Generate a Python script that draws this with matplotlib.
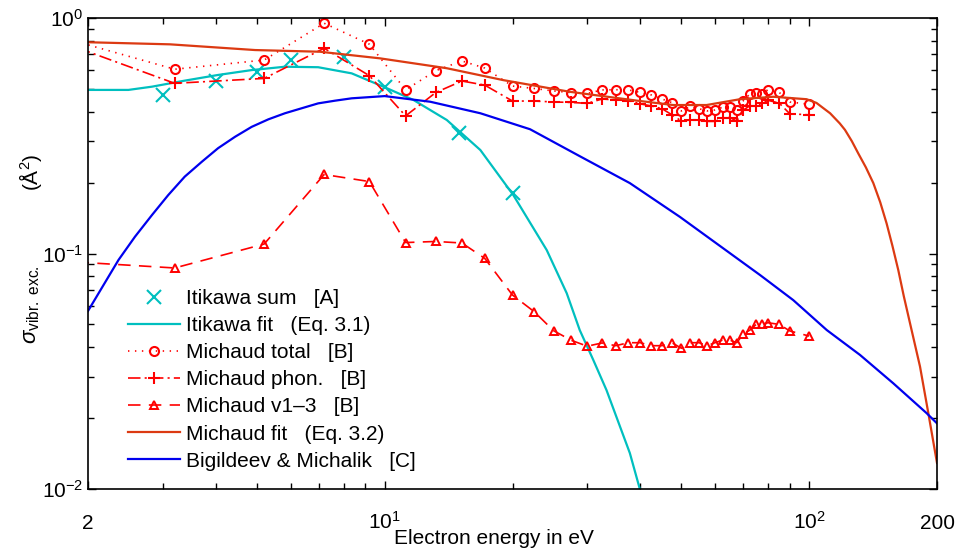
import matplotlib
matplotlib.use("Agg")
import matplotlib.pyplot as plt
from matplotlib.ticker import NullFormatter

plt.rcParams['font.family'] = ['Liberation Sans', 'DejaVu Sans']
plt.rcParams['mathtext.fontset'] = 'custom'
plt.rcParams['mathtext.rm'] = 'Liberation Sans'
plt.rcParams['mathtext.it'] = 'Liberation Sans:italic'
plt.rcParams['lines.scale_dashes'] = False

# Itikawa sum [A]
x_itikawa = [3, 4, 5, 6, 8, 10, 15, 20]
y_itikawa = [0.47, 0.54, 0.59, 0.66, 0.68, 0.51, 0.325, 0.181]

# Itikawa fit (Eq. 3.1)
x_ifit = [2.0, 2.49, 2.83, 3.38, 4.05, 4.86, 5.82, 6.97, 8.36, 10.0, 11.68, 14.0,
          16.8, 20.09, 24.08, 26.84, 28.8, 31.0, 33.3, 37.8, 39.9, 42]
y_ifit = [0.495, 0.495, 0.511, 0.542, 0.573, 0.601, 0.621, 0.618, 0.582, 0.508, 0.449, 0.369,
          0.275, 0.177, 0.1034, 0.0678, 0.0473, 0.0353, 0.0263, 0.0142, 0.010, 0.0075]

# Michaud data [B]
x_michaud = [1.5, 3.2, 5.2, 7.2, 9.2, 11.2, 13.2, 15.2, 17.2, 20, 22.5, 25, 27.5, 30,
             32.5, 35, 37.5, 40, 42.5, 45, 47.5, 50, 52.5, 55, 57.5, 60, 62.5, 65,
             67.5, 70, 72.5, 75, 77.5, 80, 85, 90, 100]
y_total = [0.89, 0.606, 0.663, 0.950, 0.774, 0.495, 0.598, 0.657, 0.613, 0.514, 0.502,
           0.490, 0.482, 0.478, 0.495, 0.496, 0.495, 0.483, 0.471, 0.453, 0.437, 0.403,
           0.421, 0.412, 0.403, 0.407, 0.418, 0.418, 0.407, 0.446, 0.476, 0.478, 0.476,
           0.497, 0.483, 0.440, 0.430]
y_phon = [0.87, 0.528, 0.554, 0.744, 0.569, 0.384, 0.483, 0.540, 0.519, 0.444, 0.444,
          0.440, 0.438, 0.434, 0.453, 0.449, 0.446, 0.432, 0.423, 0.412, 0.388, 0.365,
          0.369, 0.368, 0.364, 0.364, 0.375, 0.378, 0.365, 0.407, 0.424, 0.423, 0.436,
          0.447, 0.435, 0.392, 0.388]
y_v13 = [0.0943, 0.0868, 0.1097, 0.2165, 0.2021, 0.1113, 0.1125, 0.1108, 0.0954, 0.0666,
         0.0566, 0.0470, 0.0428, 0.0404, 0.0417, 0.0406, 0.0418, 0.0418, 0.0406, 0.0406,
         0.0418, 0.0396, 0.0418, 0.0418, 0.0406, 0.0418, 0.0429, 0.0429, 0.0418, 0.0456,
         0.0473, 0.0500, 0.0502, 0.0508, 0.0500, 0.0469, 0.0446]

# Michaud fit (Eq. 3.2)
x_mfit = [2.0, 3.12, 4.95, 7.04, 9.75, 14.0, 19.0, 27.3, 39.2, 47.8, 57.3, 68.7, 82.3,
          98.6, 104, 108, 112, 118, 121.4, 126, 130.5, 136, 141.6, 147, 152.2, 157,
          162.1, 167, 172.8, 182.4, 190.8, 200]
y_mfit = [0.789, 0.773, 0.731, 0.719, 0.674, 0.612, 0.545, 0.486, 0.446, 0.427, 0.427,
          0.452, 0.463, 0.452, 0.436, 0.414, 0.394, 0.357, 0.335, 0.300, 0.266, 0.232,
          0.199, 0.165, 0.134, 0.108, 0.0851, 0.066, 0.0505, 0.0331, 0.0210, 0.0129]

# Bigildeev & Michalik [C]
x_bm = [2.0, 2.36, 2.58, 2.83, 3.09, 3.38, 3.71, 4.05, 4.44, 4.86, 5.32, 5.82, 6.37,
        6.97, 7.64, 8.36, 10.0, 12.8, 16.8, 22.0, 28.8, 37.8, 49.6, 76.6, 91.7, 110,
        131.7, 157.8, 189, 200]
y_bm = [0.057, 0.0939, 0.1178, 0.1457, 0.177, 0.212, 0.2454, 0.280, 0.313, 0.345,
        0.3713, 0.394, 0.4136, 0.434, 0.4456, 0.456, 0.466, 0.441, 0.394, 0.337, 0.259,
        0.199, 0.143, 0.081, 0.0634, 0.0473, 0.0371, 0.0281, 0.0210, 0.0190]

cyan = '#00bfbf'
red = '#ff0000'
orange = '#dc3a12'
blue = '#0000ee'

fig = plt.figure(figsize=(9.55, 5.54), dpi=100)
ax = fig.add_axes([88/955, 1-489/554, (937-88)/955, (489-18)/554])

ax.plot(x_itikawa, y_itikawa, 'x', color=cyan, ms=10, mew=1.5, label='Itikawa sum   [A]')
ax.plot(x_ifit, y_ifit, '-', color=cyan, lw=1.6, label='Itikawa fit   (Eq. 3.1)')
ax.plot(x_michaud, y_total, color=red, lw=1.2, ls=(0, (1, 4)), marker='o', ms=6.5,
        mfc='none', mew=1.5, label='Michaud total   [B]')
ax.plot(x_michaud, y_phon, color=red, lw=1.2, ls=(0, (9, 3, 1.5, 3)), marker='+', ms=8,
        mew=1.5, label='Michaud phon.   [B]')
ax.plot(x_michaud, y_v13, color=red, lw=1.2, ls=(0, (9, 6)), marker='^', ms=6,
        mfc='none', mew=1.4, label='Michaud v1\u20133   [B]')
ax.plot(x_mfit, y_mfit, '-', color=orange, lw=1.6, label='Michaud fit   (Eq. 3.2)')
ax.plot(x_bm, y_bm, '-', color=blue, lw=1.6, label='Bigildeev & Michalik   [C]')

ax.set_xscale('log')
ax.set_yscale('log')
ax.set_xlim(2, 200)
ax.set_ylim(0.01, 1)

ax.set_xticks([2, 10, 100, 200])
ax.set_xticklabels(['2', r'$\mathdefault{10^{1}}$', r'$\mathdefault{10^{2}}$', '200'])
ax.xaxis.set_minor_formatter(NullFormatter())
ax.yaxis.set_minor_formatter(NullFormatter())

ax.tick_params(which='both', direction='in', top=True, right=True, labelsize=15)
ax.tick_params(which='major', length=6, width=1)
ax.tick_params(which='minor', length=4, width=1)
ax.tick_params(axis='x', which='major', pad=29)
for lbl in ax.get_xticklabels():
    lbl.set_verticalalignment('baseline')
for s in ax.spines.values():
    s.set_linewidth(1.2)

fig.text(494/955, 1-538/554, 'Electron energy in eV', ha='center', va='center', fontsize=15)
fig.text(31/955, 1-305/554, r'$\sigma_{\mathrm{vibr.\ exc.}}$', rotation=90,
         ha='center', va='center', fontsize=16)
fig.text(30/955, 1-172/554, '(Å$^2$)', rotation=90, ha='center', va='center', fontsize=15)

ax.legend(loc='upper left', bbox_to_anchor=(128/955, 1-289/554),
          bbox_transform=fig.transFigure, frameon=False, fontsize=15,
          handlelength=2.5, handletextpad=0.3, labelspacing=0.39, borderpad=0,
          borderaxespad=0)

fig.savefig('out.png', dpi=100)
